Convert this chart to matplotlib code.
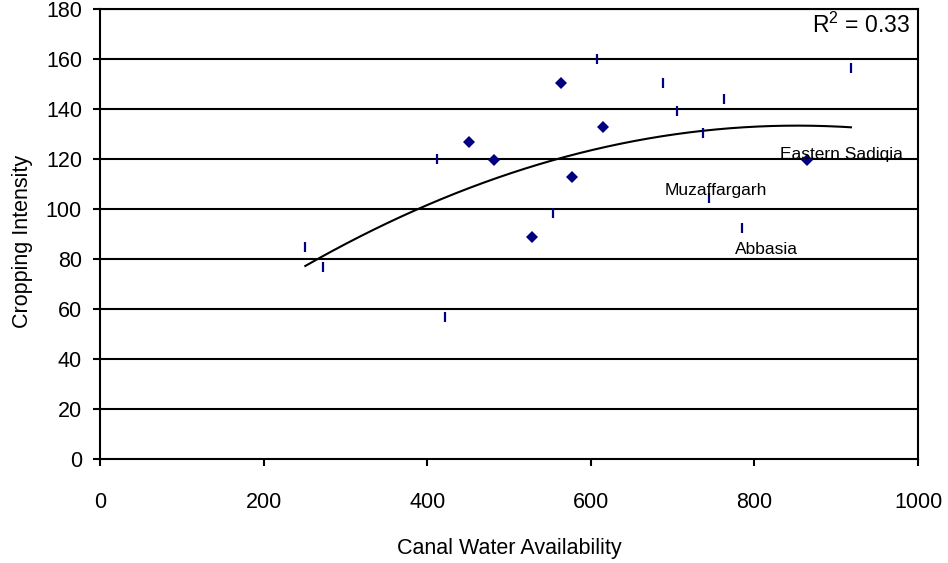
import numpy as np
import matplotlib
matplotlib.use("Agg")
import matplotlib.pyplot as plt

plt.rcParams["font.family"] = ["Liberation Sans", "DejaVu Sans"]
plt.rcParams["mathtext.fontset"] = "custom"
plt.rcParams["mathtext.rm"] = "Liberation Sans"
plt.rcParams["mathtext.it"] = "Liberation Sans"

# ── 数据 ────────────────────────────────────────────
dash_x = [251, 273, 412, 422, 554, 607, 688, 705, 737, 763, 745, 785, 918]
dash_y = [85, 77, 120, 57, 98.5, 160, 150.5, 139.3, 130.5, 144, 104.3, 92.5, 156.3]
diamond_x = [451, 482, 528, 564, 577, 615, 864]
diamond_y = [127, 119.6, 89, 150.5, 113, 133, 119.6]

district_names = ["Eastern Sadiqia", "Muzaffargarh", "Abbasia"]
district_x = [907, 753, 815]
district_y = [121.6, 107.6, 83.6]

x_ticks = [0, 200, 400, 600, 800, 1000]
y_ticks = list(range(0, 181, 20))
r2_text = r"R$^2$ = 0.33"

NAVY = "#000080"

fig = plt.figure(figsize=(9.48, 5.63), dpi=100, facecolor="white")
ax = fig.add_axes([100 / 948, (563 - 459) / 563, 818 / 948, 450 / 563])

# 网格线
for y in y_ticks[1:]:
    ax.axhline(y, color="black", linewidth=1.5, zorder=1)

# 散点
ax.plot(dash_x, dash_y, linestyle="none", marker="|", markersize=6.5,
        markeredgewidth=1.6, color=NAVY, zorder=3)
ax.plot(diamond_x, diamond_y, linestyle="none", marker="D", markersize=6.2,
        markeredgewidth=0, color=NAVY, zorder=3)

# 二次趋势线
all_x = np.array(dash_x + diamond_x, dtype=float)
all_y = np.array(dash_y + diamond_y, dtype=float)
coef = np.polyfit(all_x, all_y, 2)
xs = np.linspace(all_x.min(), all_x.max(), 200)
ax.plot(xs, np.polyval(coef, xs), color="black", linewidth=1.5, zorder=2)

# 注记
for name, x, y in zip(district_names, district_x, district_y):
    ax.text(x, y, name, ha="center", va="center", fontsize=12.5, zorder=4)
ax.text(990, 173.5, r2_text, ha="right", va="center", fontsize=16.5)

ax.set_xlim(0, 1000)
ax.set_ylim(0, 180)
ax.set_xticks(x_ticks)
ax.set_yticks(y_ticks)
ax.tick_params(axis="x", direction="out", length=5, width=1.5, pad=19,
               labelsize=15.5)
ax.tick_params(axis="y", direction="out", length=5, width=1.5, pad=8,
               labelsize=15.5)
for sp in ax.spines.values():
    sp.set_linewidth(1.5)
    sp.set_color("black")

ax.set_xlabel("Canal Water Availability", fontsize=15.5)
ax.xaxis.set_label_coords(0.5, -(549 - 459 - 11) / 450)
ax.xaxis.label.set_va("top")
ax.set_ylabel("Cropping Intensity", fontsize=15.5)
ax.yaxis.set_label_coords(-0.082, 0.484)

fig.savefig("out.png", dpi=100, facecolor="white")
